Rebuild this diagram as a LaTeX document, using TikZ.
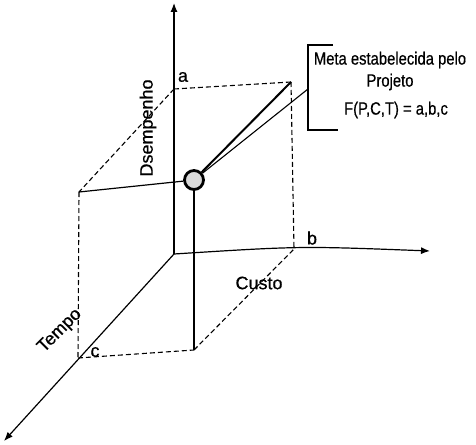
\documentclass[tikz,border=0pt]{standalone}
\usepackage{fontspec}
\setmainfont{Liberation Sans}[FakeBold=0.6]
\usetikzlibrary{arrows.meta}
\begin{document}
\begin{tikzpicture}[x=1pt,y=-1pt,
  axis/.style={line width=1.2pt,-{Latex[length=9pt,width=7pt]}},
  edge/.style={line width=1.2pt},
  dashedge/.style={line width=1.1pt,dash pattern=on 5pt off 3pt},
  lbl/.style={font=\fontsize{18}{20}\selectfont,inner sep=0pt},
  boxtxt/.style={font=\fontsize{14.8}{17}\selectfont,inner sep=0pt}]
\useasboundingbox (0,0) rectangle (476,444);
% points
\coordinate (O) at (174,254);
\coordinate (Ztip) at (174,3);
\coordinate (Xtip) at (430,251);
\coordinate (Ytip) at (4,441);
\coordinate (a) at (174,89);
\coordinate (TR) at (291,82);
\coordinate (TL) at (79,192);
\coordinate (b) at (294,249);
\coordinate (c) at (78,358);
\coordinate (BR) at (194,350);
\coordinate (Bt) at (308,45);
\coordinate (Bb) at (308,130);
\coordinate (Bm) at (308,89);
% axes
\draw[axis] (O) -- (Ztip);
\draw[axis] (O) .. controls (300,246) .. (Xtip);
\draw[axis] (O) -- (Ytip);
% box dashed edges
\draw[dashedge] (a) -- (TR);
\draw[dashedge] (a) -- (TL);
\draw[dashedge] (TR) -- (b);
\draw[dashedge] (TL) -- (c);
\draw[dashedge] (c) -- (BR);
\draw[dashedge] (BR) -- (b);
% sphere
\node[circle,draw,line width=2.8pt,fill=black!15,minimum size=19pt,inner sep=0pt] (P) at (194,180) {};
\draw[edge] (TL) -- (P);
\draw[edge] (P) -- (BR);
\draw[line width=2pt] (P) -- (TR);
\draw[line width=1.1pt] (P) -- (Bm);
% bracket
\draw[line width=1.1pt] (333,45) -- (Bt) -- (Bb) -- (338,130);
% box text
\node[boxtxt] (t1) at (390,60) {\scalebox{1}[1.2]{Meta estabelecida pelo}};
\node[boxtxt] (t2) at (390,82) {\scalebox{1}[1.2]{Projeto}};
\node[boxtxt] (t3) at (396,110) {\scalebox{1}[1.2]{F(P,C,T) = a,b,c}};
% labels
\node[lbl] (la) at (183,77) {a};
\node[lbl] (lb) at (312,238) {b};
\node[lbl] (lc) at (95,352) {c};
\node[lbl] (lcusto) at (259,283) {Custo};
\node[lbl,rotate=90] (ld) at (148,128) {Dsempenho};
\node[lbl,rotate=45] (lt) at (60,331) {Tempo};
\end{tikzpicture}
\end{document}
